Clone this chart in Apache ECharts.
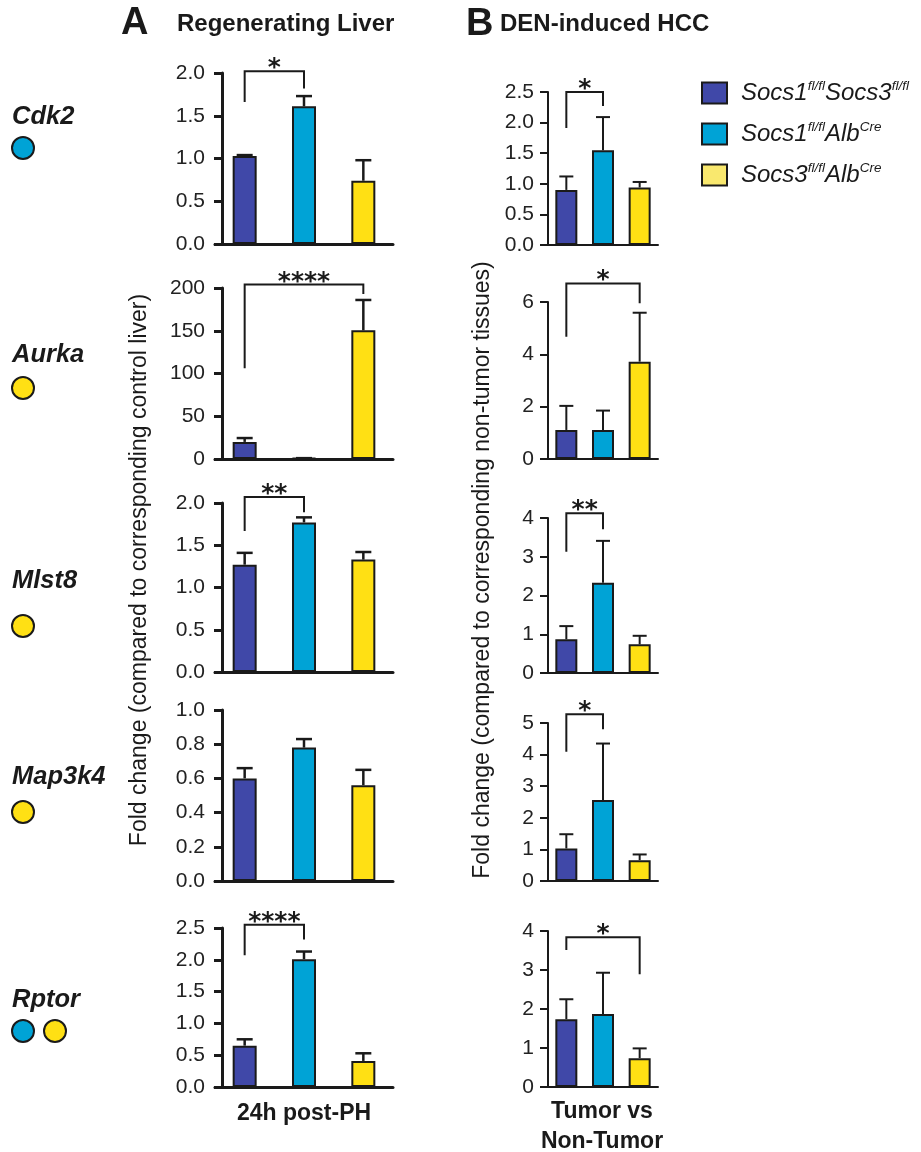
<!DOCTYPE html>
<html><head><meta charset="utf-8">
<script src="https://cdn.jsdelivr.net/npm/echarts@6/dist/echarts.min.js"></script>
<style>html,body{margin:0;padding:0;background:#fff}#c{width:921px;height:1152px}</style>
</head><body><div id="c"></div>
<script>
// ---------- data ----------
const genes = ['Cdk2', 'Aurka', 'Mlst8', 'Map3k4', 'Rptor'];
const genotypes = ['Socs1fl/flSocs3fl/fl', 'Socs1fl/flAlbCre', 'Socs3fl/flAlbCre'];
const geneDots = [['c'], ['y'], ['y'], ['y'], ['c', 'y']];

// Panel A: Regenerating liver (24h post-PH), means and upper error values
const meansA = [[1.03, 1.61, 0.74], [20, 1, 150.5], [1.27, 1.77, 1.33], [0.60, 0.78, 0.56], [0.65, 2.01, 0.41]];
const upperA = [[1.04, 1.73, 0.98], [24.5, 1, 186], [1.41, 1.83, 1.42], [0.66, 0.83, 0.65], [0.75, 2.13, 0.53]];
const yMaxA = [2.0, 200, 2.0, 1.0, 2.5];
const yStepA = [0.5, 50, 0.5, 0.2, 0.5];
// brackets: [fromIdx, toIdx, leftLegBottom, top, rightLegBottom, stars]
const sigA = [[0, 1, 1.66, 2.02, 1.82, '*'], [0, 2, 106, 204, 193, '****'], [0, 1, 1.67, 2.07, 1.89, '**'], null, [0, 1, 2.07, 2.55, 2.32, '****']];

// Panel B: DEN-induced HCC (tumor vs non-tumor)
const meansB = [[0.90, 1.55, 0.94], [1.11, 1.11, 3.72], [0.87, 2.33, 0.74], [1.03, 2.56, 0.66], [1.74, 1.87, 0.74]];
const upperB = [[1.12, 2.09, 1.03], [2.03, 1.85, 5.59], [1.21, 3.41, 0.96], [1.48, 4.35, 0.84], [2.25, 2.93, 0.99]];
const yMaxB = [2.5, 6, 4, 5, 4];
const yStepB = [0.5, 2, 1, 1, 1];
const sigB = [[0, 1, 1.91, 2.50, 2.27, '*'], [0, 2, 4.67, 6.71, 5.95, '*'], [0, 1, 3.13, 4.12, 3.71, '**'], [0, 1, 4.09, 5.28, 4.80, '*'], [0, 2, 3.51, 3.84, 2.89, '*']];

// ---------- styling / layout ----------
const colors = ['#4048A8', '#00A3D6', '#FFE014'];
const legendColors = ['#4048A8', '#00A3D6', '#F9E86E'];
const ink = '#1a1a1a';
const FONT = "'Liberation Sans', Arial, Helvetica, sans-serif";
const rowsA = [[73, 244], [288, 459], [503, 672], [710, 881], [928, 1087]];
const rowsB = [[92, 245], [302, 459], [518, 673], [723, 881], [931, 1087]];
const colA = {left: 215, width: 178, yOffset: -7, barWidth: 24, cap: 8, lw: 3, elw: 2.5, font: 21, margin: 17};
const colB = {left: 548, width: 110, yOffset: 0, barWidth: 22, cap: 7, lw: 2, elw: 2, font: 21, margin: 14};

const grid = [], xAxis = [], yAxis = [], series = [];

function addPanel(col, rows, means, upper, yMax, yStep, sig, isA) {
  for (let r = 0; r < 5; r++) {
    const gi = grid.length;
    const [top, bottom] = rows[r];
    grid.push({left: col.left, width: col.width, top: top, height: bottom - top});
    xAxis.push({
      type: 'category', gridIndex: gi, data: ['0', '1', '2'],
      axisLine: {lineStyle: {color: ink, width: col.lw}},
      axisTick: {alignWithLabel: true, length: 7, lineStyle: {color: ink, width: col.lw},
        interval: isA ? 0 : function (i) { return i === 1; }},
      axisLabel: {show: false}, splitLine: {show: false}
    });
    yAxis.push({
      type: 'value', gridIndex: gi, min: 0, max: yMax[r], interval: yStep[r], offset: col.yOffset,
      axisLine: {show: true, lineStyle: {color: ink, width: col.lw}},
      axisTick: {show: true, length: 8, lineStyle: {color: ink, width: col.lw}},
      axisLabel: {color: '#222', fontSize: col.font, fontFamily: FONT, margin: col.margin,
        formatter: function (v) { return yStep[r] < 1 ? v.toFixed(1) : String(v); }},
      splitLine: {show: false}
    });
    for (let k = 0; k < 3; k++) {
      const d = ['-', '-', '-'];
      d[k] = means[r][k];
      series.push({
        type: 'bar', name: genotypes[k], xAxisIndex: gi, yAxisIndex: gi, data: d,
        barWidth: col.barWidth, barGap: '-100%', z: 2,
        itemStyle: {color: colors[k], borderColor: ink, borderWidth: 2},
        emphasis: {disabled: true}
      });
    }
    const eb = means[r].map((m, k) => [k, m, upper[r][k]]);
    series.push({
      type: 'custom', xAxisIndex: gi, yAxisIndex: gi, data: eb, z: 3, clip: false,
      encode: {x: 0, y: [1, 2]},
      renderItem: function (params, api) {
        const x = api.value(0), m = api.value(1), u = api.value(2);
        const p0 = api.coord([x, m]), p1 = api.coord([x, u]);
        const st = {stroke: ink, lineWidth: col.elw};
        return {type: 'group', children: [
          {type: 'line', shape: {x1: p0[0], y1: p0[1], x2: p1[0], y2: p1[1]}, style: st},
          {type: 'line', shape: {x1: p1[0] - col.cap, y1: p1[1], x2: p1[0] + col.cap, y2: p1[1]}, style: st}
        ]};
      }
    });
    if (sig[r]) {
      const s = sig[r];
      series.push({
        type: 'custom', xAxisIndex: gi, yAxisIndex: gi, data: [[s[0], s[1], s[2], s[3], s[4]]], z: 4, clip: false,
        encode: {x: [0, 1], y: [2, 3, 4]},
        renderItem: function (params, api) {
          const a = api.coord([api.value(0), api.value(2)]);
          const b = api.coord([api.value(0), api.value(3)]);
          const c = api.coord([api.value(1), api.value(3)]);
          const d = api.coord([api.value(1), api.value(4)]);
          return {type: 'group', children: [
            {type: 'polyline', shape: {points: [a, b, c, d]}, style: {stroke: ink, lineWidth: 2, fill: null}},
            {type: 'text', x: (b[0] + c[0]) / 2, y: b[1] + 10,
              style: {text: s[5], fontSize: 25, fontWeight: 'bold', fontFamily: "'DejaVu Sans', sans-serif", fill: ink,
                align: 'center', verticalAlign: 'bottom'}}
          ]};
        }
      });
    }
  }
}
addPanel(colA, rowsA, meansA, upperA, yMaxA, yStepA, sigA, true);
addPanel(colB, rowsB, meansB, upperB, yMaxB, yStepB, sigB, false);

// ---------- annotations ----------
const graphic = [];
function txt(x, y, text, size, weight, extra) {
  graphic.push(Object.assign({type: 'text', x: x, y: y, style: Object.assign({text: text, fontSize: size,
    fontWeight: weight, fontFamily: FONT, fill: ink, align: 'left', verticalAlign: 'middle'}, extra && extra.style || {})},
    extra && extra.el || {}));
}
txt(121, 24, 'A', 38, 'bold');
txt(177, 24, 'Regenerating Liver', 24, 'bold');
txt(466, 25, 'B', 38, 'bold');
txt(500, 24, 'DEN-induced HCC', 24, 'bold');
const geneY = [117, 355, 581, 777, 1000];
const dotY = [148, 388, 626, 812, 1031];
genes.forEach((g, i) => {
  txt(12, geneY[i], g, 25.5, 'bold', {style: {fontStyle: 'italic'}});
  geneDots[i].forEach((d, j) => {
    graphic.push({type: 'circle', shape: {cx: 23 + j * 32, cy: dotY[i], r: 11},
      style: {fill: d === 'c' ? colors[1] : colors[2], stroke: ink, lineWidth: 2}});
  });
});
txt(140, 570, 'Fold change (compared to corresponding control liver)', 23, 'normal',
  {style: {align: 'center'}, el: {rotation: Math.PI / 2}});
txt(483, 570, 'Fold change (compared to corresponding non-tumor tissues)', 23, 'normal',
  {style: {align: 'center'}, el: {rotation: Math.PI / 2}});
txt(304, 1114, '24h post-PH', 23, 'bold', {style: {align: 'center'}});
txt(602, 1112, 'Tumor vs', 23, 'bold', {style: {align: 'center'}});
txt(602, 1142, 'Non-Tumor', 23, 'bold', {style: {align: 'center'}});

const legendRich = {
  'Socs1fl/flSocs3fl/fl': '{p|}{m|Socs1}{s|fl/fl}{m|Socs3}{s|fl/fl}',
  'Socs1fl/flAlbCre': '{p|}{m|Socs1}{s|fl/fl}{m|Alb}{s|Cre}',
  'Socs3fl/flAlbCre': '{p|}{m|Socs3}{s|fl/fl}{m|Alb}{s|Cre}'
};

const chart = echarts.init(document.getElementById('c'), null, {renderer: 'canvas'});
chart.setOption({
  animation: false,
  backgroundColor: '#fff',
  grid: grid, xAxis: xAxis, yAxis: yAxis, series: series, graphic: graphic,
  legend: {
    orient: 'vertical', left: 701, top: 79, padding: 0, itemWidth: 25, itemHeight: 21, itemGap: 15,
    selectedMode: false,
    data: genotypes.map((g, k) => ({name: g, icon: 'rect', itemStyle: {color: legendColors[k], borderColor: ink, borderWidth: 2}})),
    formatter: function (n) { return legendRich[n]; },
    textStyle: {
      rich: {
        p: {width: 9},
        m: {fontSize: 24, fontStyle: 'italic', fontFamily: FONT, color: ink, lineHeight: 28},
        s: {fontSize: 13.5, fontStyle: 'italic', fontFamily: FONT, color: ink, verticalAlign: 'top', lineHeight: 15}
      }
    }
  }
});
</script></body></html>
